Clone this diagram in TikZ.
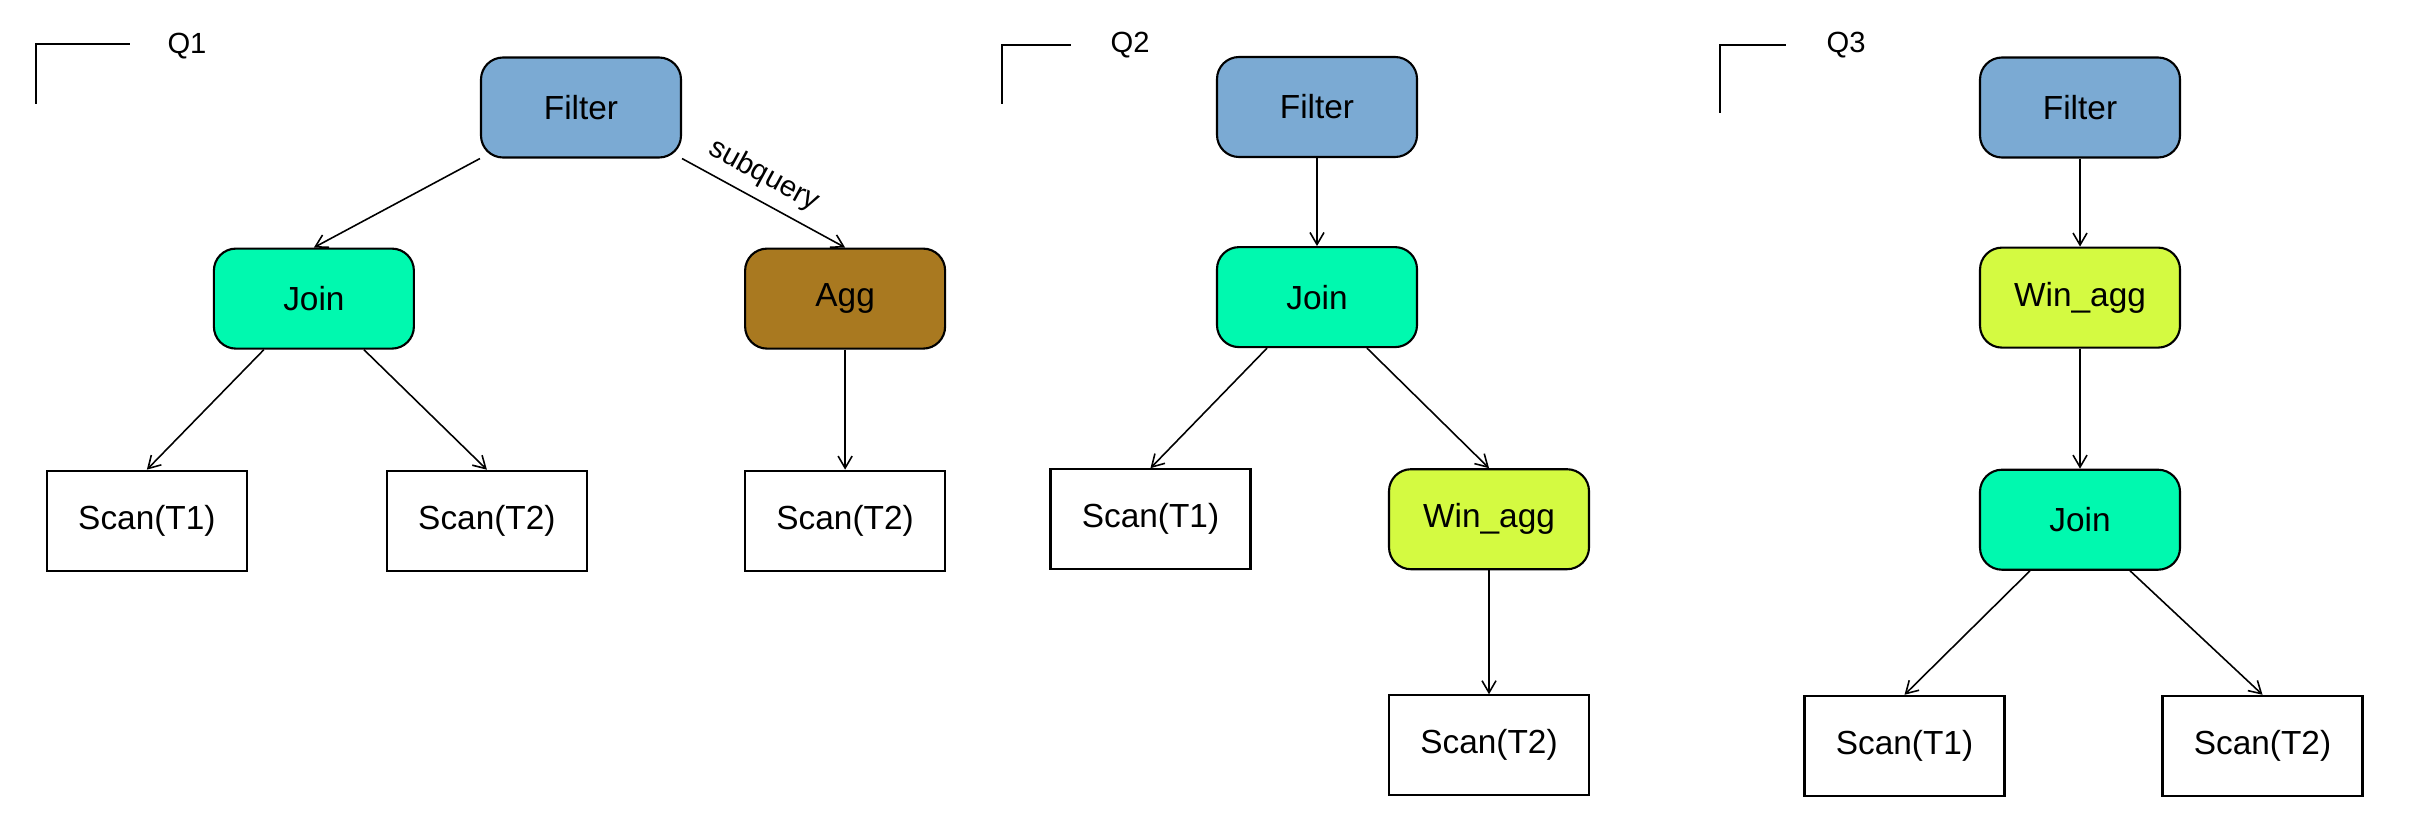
\documentclass[tikz,border=0pt]{standalone}
\usepackage{fontspec}
\setmainfont{Liberation Sans}
\usetikzlibrary{arrows.meta,positioning}
\definecolor{azulFiltro}{HTML}{7BAAD3}
\definecolor{verdeJoin}{HTML}{00F9AF}
\definecolor{marronAgg}{HTML}{A97920}
\definecolor{limaWin}{HTML}{D4FA41}

\begin{document}
\begin{tikzpicture}[
    op/.style={draw=black,line width=0.6pt,rounded corners=0.22cm,
               minimum width=2cm,minimum height=1cm,
               font=\fontsize{9.5}{11}\selectfont},
    scan/.style={draw=black,line width=0.6pt,
                 minimum width=2cm,minimum height=1cm,
                 font=\fontsize{9.5}{11}\selectfont},
    qlabel/.style={font=\fontsize{8.3}{10}\selectfont},
    marca/.style={line width=0.5pt},
    arista/.style={->,line width=0.45pt},
    >={Straight Barb[length=1.2mm,width=1.4mm]},node distance=0.88cm]
  \useasboundingbox (0,0) rectangle (24.28,-8.26);
  % Q1
  \draw[marca] (0.36,-1.04) -- (0.36,-0.44) -- (1.30,-0.44);
  \node[qlabel] (q1) at (1.87,-0.46) {Q1};
  \node[op,fill=azulFiltro] (filterA) at (5.81,-1.075) {Filter};
  \node[op,fill=verdeJoin,below left=0.89cm and 0.65cm of filterA] (joinA) {Join};
  \node[op,fill=marronAgg,below right=0.89cm and 0.62cm of filterA] (aggA) {Agg};
  \node[scan,below=1.2cm of joinA,xshift=-1.67cm] (scanA1) {Scan(T1)};
  \node[scan,below=1.2cm of joinA,xshift=1.73cm] (scanA2) {Scan(T2)};
  \node[scan,below=1.2cm of aggA] (scanA3) {Scan(T2)};
  \draw[arista] (filterA.south west) -- (joinA.north);
  \draw[arista] (filterA.south east) --
    node[pos=0.43,sloped,above=-0.5pt,qlabel] {subquery} (aggA.north);
  \draw[arista] ([xshift=-0.5cm]joinA.south) -- (scanA1.north);
  \draw[arista] ([xshift=0.5cm]joinA.south) -- (scanA2.north);
  \draw[arista] (aggA) -- (scanA3);
  % Q2
  \draw[marca] (10.02,-1.04) -- (10.02,-0.45) -- (10.71,-0.45);
  \node[qlabel] (q2) at (11.30,-0.45) {Q2};
  \node[op,fill=azulFiltro] (filterB) at (13.17,-1.07) {Filter};
  \node[op,fill=verdeJoin,below=of filterB] (joinB) {Join};
  \node[scan,below=1.2cm of joinB,xshift=-1.665cm] (scanB1) {Scan(T1)};
  \node[op,fill=limaWin,below=1.2cm of joinB,xshift=1.72cm] (winB) {Win\_agg};
  \node[scan,below=1.24cm of winB] (scanB2) {Scan(T2)};
  \draw[arista] (filterB) -- (joinB);
  \draw[arista] ([xshift=-0.5cm]joinB.south) -- (scanB1.north);
  \draw[arista] ([xshift=0.5cm]joinB.south) -- (winB.north);
  \draw[arista] (winB) -- (scanB2);
  % Q3
  \draw[marca] (17.20,-1.13) -- (17.20,-0.45) -- (17.86,-0.45);
  \node[qlabel] (q3) at (18.46,-0.45) {Q3};
  \node[op,fill=azulFiltro] (filterC) at (20.80,-1.075) {Filter};
  \node[op,fill=limaWin,below=of filterC] (winC) {Win\_agg};
  \node[op,fill=verdeJoin,below=1.2cm of winC] (joinC) {Join};
  \node[scan,below=1.24cm of joinC,xshift=-1.755cm] (scanC1) {Scan(T1)};
  \node[scan,below=1.24cm of joinC,xshift=1.825cm] (scanC2) {Scan(T2)};
  \draw[arista] (filterC) -- (winC);
  \draw[arista] (winC) -- (joinC);
  \draw[arista] ([xshift=-0.5cm]joinC.south) -- (scanC1.north);
  \draw[arista] ([xshift=0.5cm]joinC.south) -- (scanC2.north);
\end{tikzpicture}
\end{document}
